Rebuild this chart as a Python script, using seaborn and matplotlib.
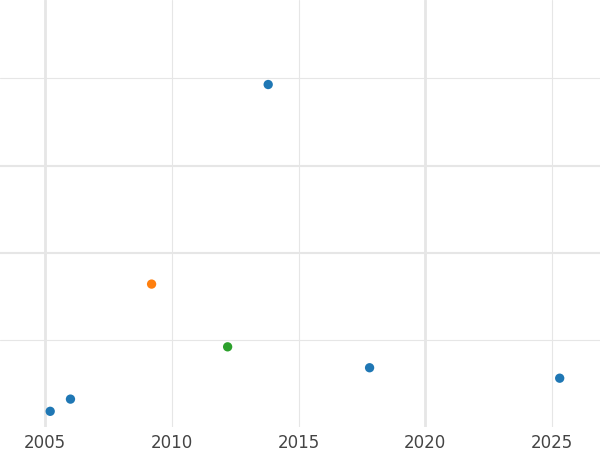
import matplotlib
matplotlib.use("Agg")
import matplotlib.pyplot as plt
import seaborn as sns
import pandas as pd

years = [2005.2, 2006.0, 2009.2, 2012.2, 2013.8, 2017.8, 2025.3]
values = [0.18, 0.32, 1.64, 0.92, 3.93, 0.68, 0.56]
groups = ["a", "a", "b", "c", "a", "a", "a"]
xticks = [2005, 2010, 2015, 2020, 2025]
yticks = [1, 2, 3, 4]

df = pd.DataFrame({"year": years, "value": values, "group": groups})
sns.set_style("white")
fig = plt.figure(figsize=(6, 4.5), dpi=100)
ax = fig.add_axes([0, 23/450, 1, 427/450])
sns.scatterplot(data=df, x="year", y="value", hue="group",
                palette={"a": "#1f77b4", "b": "#ff7f0e", "c": "#2ca02c"},
                s=45, edgecolor="none", legend=False, ax=ax, zorder=3)
ax.set_xlim(2003.22, 2026.89)
ax.set_ylim(0, 4.9)
ax.set_xticks(xticks)
ax.set_xticklabels([str(t) for t in xticks], fontsize=12, color="#444444")
ax.set_yticks(yticks)
ax.set_yticklabels([])
ax.tick_params(length=0, pad=5)
for t in xticks:
    ax.axvline(t, color="#e6e6e6", lw=2 if t in (2005, 2020) else 0.8, zorder=0)
for t in yticks:
    ax.axhline(t, color="#e6e6e6", lw=1.5 if t in (2, 3) else 0.8, zorder=0)
for s in ax.spines.values():
    s.set_visible(False)
ax.set_xlabel("")
ax.set_ylabel("")
fig.savefig("out.png", dpi=100)
